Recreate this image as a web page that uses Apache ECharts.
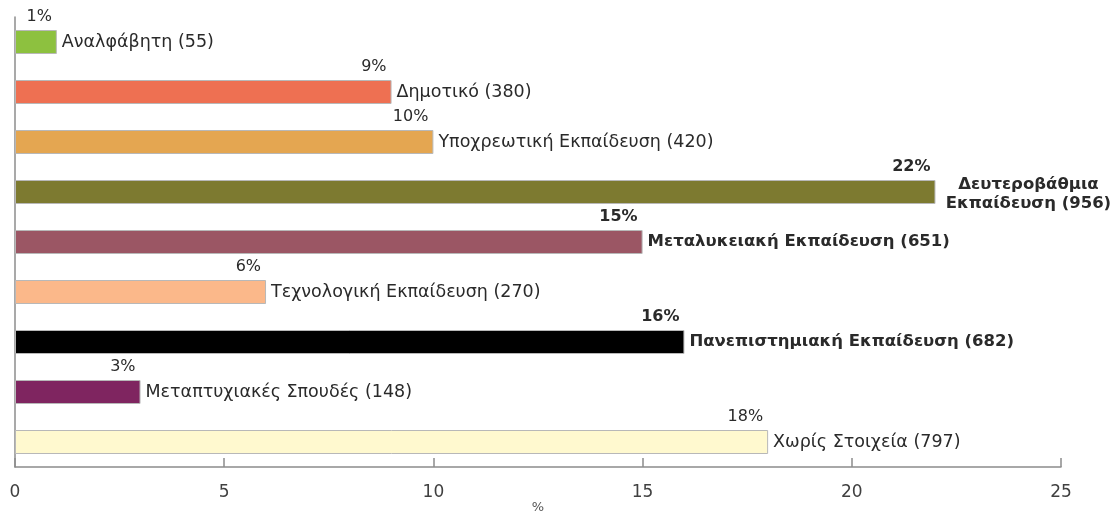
<!DOCTYPE html>
<html>
<head>
<meta charset="utf-8">
<script src="https://cdn.jsdelivr.net/npm/echarts@6/dist/echarts.min.js"></script>
<style>
html,body{margin:0;padding:0;background:#ffffff;}
#chart{width:1115px;height:512px;}
</style>
</head>
<body>
<div id="chart"></div>
<script>
// ---- data ----
const categories = [
  'Αναλφάβητη',
  'Δημοτικό',
  'Υποχρεωτική Εκπαίδευση',
  'Δευτεροβάθμια Εκπαίδευση',
  'Μεταλυκειακή Εκπαίδευση',
  'Τεχνολογική Εκπαίδευση',
  'Πανεπιστημιακή Εκπαίδευση',
  'Μεταπτυχιακές Σπουδές',
  'Χωρίς Στοιχεία'
];
const percentValues = [1, 9, 10, 22, 15, 6, 16, 3, 18];
const counts = [55, 380, 420, 956, 651, 270, 682, 148, 797];
const xTicks = [0, 5, 10, 15, 20, 25];
const axisName = '%';

// ---- styles ----
const barColors = ['#8dc13f', '#ee7052', '#e4a651', '#7d7a30', '#9b5664', '#fbb88a', '#000000', '#7f2560', '#fff9cf'];
const boldIndex = [3, 4, 6];
const wrapIndex = [3];
const FONT = 'DejaVu Sans';

const barData = percentValues.map((v, i) => {
  const bold = boldIndex.includes(i);
  const item = {
    value: v,
    itemStyle: { color: barColors[i] },
    label: { fontWeight: bold ? 'bold' : 'normal', fontSize: bold ? 16.5 : 17.5 }
  };
  if (wrapIndex.includes(i)) {
    item.label.align = 'center';
    item.label.offset = [88, 2];
    item.label.lineHeight = 19;
  }
  return item;
});

const pctData = percentValues.map((v, i) => ({
  value: v,
  label: { fontWeight: boldIndex.includes(i) ? 'bold' : 'normal' }
}));

const chart = echarts.init(document.getElementById('chart'), null, { renderer: 'canvas' });
chart.setOption({
  animation: false,
  backgroundColor: '#ffffff',
  grid: { left: 15, right: 54, top: 17, bottom: 45, containLabel: false, outerBoundsMode: 'none' },
  xAxis: {
    type: 'value',
    min: xTicks[0],
    max: xTicks[xTicks.length - 1],
    interval: xTicks[1] - xTicks[0],
    name: axisName,
    nameLocation: 'middle',
    nameGap: 34,
    nameMoveOverlap: false,
    nameTextStyle: { fontFamily: FONT, fontSize: 13, color: '#555' },
    axisLine: { show: true, lineStyle: { color: '#8c8c8c', width: 1.5 } },
    axisTick: { show: true, inside: true, length: 9, lineStyle: { color: '#8c8c8c', width: 1.5 } },
    axisLabel: { fontFamily: FONT, fontSize: 17, color: '#404040', margin: 17 },
    splitLine: { show: false }
  },
  yAxis: {
    type: 'category',
    inverse: true,
    data: categories,
    axisLine: { show: true, lineStyle: { color: '#8c8c8c', width: 1.5 } },
    axisTick: { show: false },
    axisLabel: { show: false },
    splitLine: { show: false }
  },
  series: [
    {
      type: 'bar',
      data: barData,
      barWidth: 24,
      itemStyle: { borderColor: '#b8b8b8', borderWidth: 1 },
      label: {
        show: true,
        position: 'right',
        distance: 5,
        fontFamily: FONT,
        fontSize: 17,
        color: '#2a2a2a',
        formatter: p => {
          const name = wrapIndex.includes(p.dataIndex)
            ? categories[p.dataIndex].replace(' ', '\n')
            : categories[p.dataIndex];
          return name + ' (' + counts[p.dataIndex] + ')';
        }
      },
      z: 2
    },
    {
      type: 'bar',
      data: pctData,
      barWidth: 24,
      barGap: '-100%',
      itemStyle: { color: 'rgba(0,0,0,0)' },
      label: {
        show: true,
        position: ['100%', 0],
        align: 'right',
        verticalAlign: 'middle',
        offset: [-5, -13],
        fontFamily: FONT,
        fontSize: 16,
        color: '#2a2a2a',
        formatter: p => p.value + '%'
      },
      silent: true,
      z: 3
    }
  ]
});
</script>
</body>
</html>
